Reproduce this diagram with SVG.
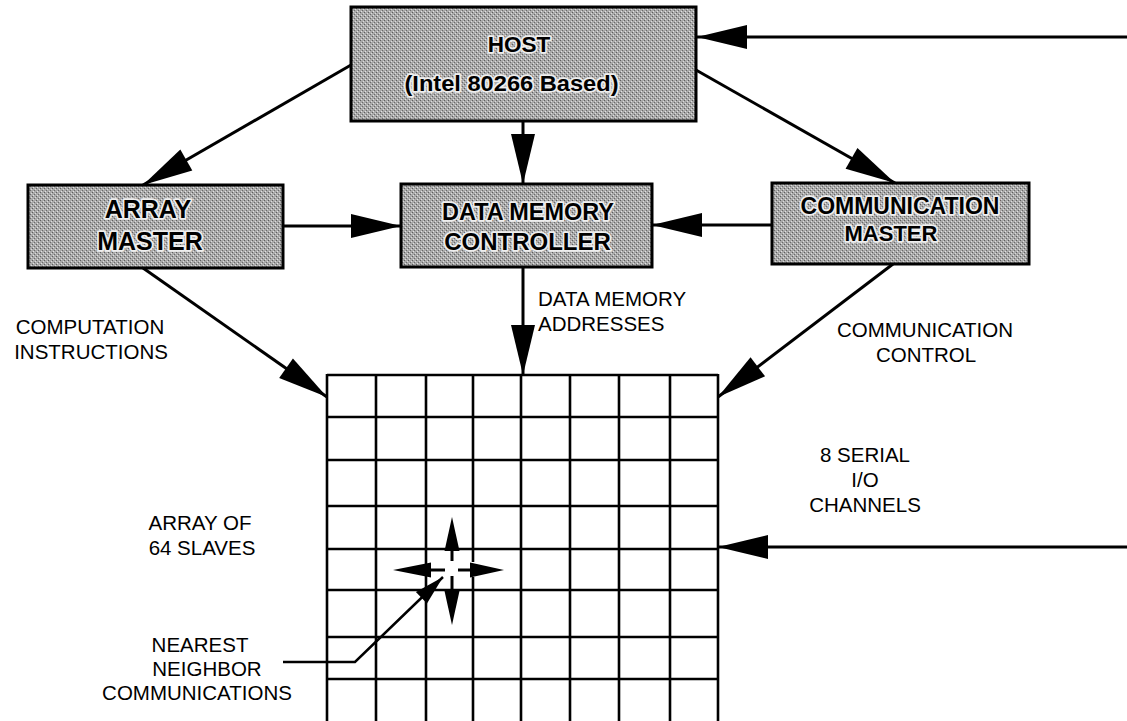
<svg xmlns="http://www.w3.org/2000/svg" width="1127" height="721" viewBox="0 0 1127 721">
<style>
.box{fill:url(#dither);stroke:#000;stroke-width:3}
.bl{font-family:"Liberation Sans",Arial,sans-serif;font-weight:bold;fill:#000;stroke:#eeeeee;stroke-width:3.5;paint-order:stroke;stroke-linejoin:round;text-anchor:middle}
.lb{font-family:"Liberation Sans",Arial,sans-serif;font-size:20.5px;fill:#000;text-anchor:middle}
.ln{stroke:#000;stroke-width:3;fill:none}
.big{marker-end:url(#ah)}
.grid line{stroke:#000;stroke-width:2.6}
.sm{fill:#000}
</style>
<defs>
<pattern id="dither" width="4" height="4" patternUnits="userSpaceOnUse">
<rect width="4" height="4" fill="#a9a9a9"/>
<rect x="0" y="0" width="1" height="1" fill="#5e5e5e"/>
<rect x="2" y="2" width="1" height="1" fill="#6a6a6a"/>
<rect x="1" y="3" width="1" height="1" fill="#e2e2e2"/>
<rect x="3" y="1" width="1" height="1" fill="#dcdcdc"/>
</pattern>
<marker id="ah" markerUnits="userSpaceOnUse" markerWidth="52" markerHeight="26" refX="50" refY="12" orient="auto" overflow="visible">
<path d="M0,0 L50,12 L0,24 Z" fill="#000"/>
</marker>
<marker id="ahs" markerUnits="userSpaceOnUse" markerWidth="32" markerHeight="18" refX="30" refY="8" orient="auto" overflow="visible">
<path d="M0,0 L30,8 L0,16 Z" fill="#000"/>
</marker>
</defs>

<g id="connectors">
<line class="ln big" x1="1127" y1="37" x2="697" y2="37"/>
<line class="ln big" x1="351" y1="65" x2="143" y2="185"/>
<line class="ln big" x1="523" y1="121" x2="523" y2="184"/>
<line class="ln big" x1="696" y1="70" x2="895" y2="183"/>
<line class="ln big" x1="283" y1="226" x2="401" y2="226"/>
<line class="ln big" x1="772" y1="225" x2="652" y2="225"/>
<line class="ln big" x1="143" y1="268" x2="327" y2="397"/>
<line class="ln big" x1="523" y1="266" x2="523" y2="375"/>
<line class="ln big" x1="893" y1="264" x2="718" y2="397"/>
<line class="ln big" x1="1127" y1="547" x2="718" y2="547"/>
</g>

<g id="array-grid" class="grid">
<line x1="327" y1="375" x2="718" y2="375"/>
<line x1="327" y1="417" x2="718" y2="417"/>
<line x1="327" y1="460" x2="718" y2="460"/>
<line x1="327" y1="506" x2="718" y2="506"/>
<line x1="327" y1="549" x2="718" y2="549"/>
<line x1="327" y1="590" x2="718" y2="590"/>
<line x1="327" y1="637" x2="718" y2="637"/>
<line x1="327" y1="679" x2="718" y2="679"/>
<line x1="327" y1="374" x2="327" y2="721"/>
<line x1="376" y1="374" x2="376" y2="721"/>
<line x1="426" y1="374" x2="426" y2="721"/>
<line x1="473" y1="374" x2="473" y2="721"/>
<line x1="521" y1="374" x2="521" y2="721"/>
<line x1="570" y1="374" x2="570" y2="721"/>
<line x1="619" y1="374" x2="619" y2="721"/>
<line x1="670" y1="374" x2="670" y2="721"/>
<line x1="718" y1="374" x2="718" y2="721"/>
</g>

<g id="neighbor-arrows">
<rect x="440" y="552" width="24" height="34" fill="#fff"/>
<rect x="428" y="562" width="48" height="15" fill="#fff"/>
<path class="sm" d="M452,517 L459.5,551 L444.5,551 Z"/>
<path class="sm" d="M452,625 L459.5,591 L444.5,591 Z"/>
<path class="sm" d="M393,570 L431,562.5 L431,577.5 Z"/>
<path class="sm" d="M504,570 L470,562.5 L470,577.5 Z"/>
<line x1="452" y1="550" x2="452" y2="561" stroke="#000" stroke-width="3"/>
<line x1="452" y1="576" x2="452" y2="592" stroke="#000" stroke-width="3"/>
<line x1="430" y1="570" x2="445" y2="570" stroke="#000" stroke-width="3"/>
<line x1="458" y1="570" x2="471" y2="570" stroke="#000" stroke-width="3"/>
<polyline points="283,662 355,662 443,577" stroke="#000" stroke-width="2.5" fill="none" style="marker-end:url(#ahs)"/>
</g>

<g id="host">
<rect class="box" x="351" y="7" width="345" height="114"/>
<text class="bl" x="519" y="52" font-size="22.5">HOST</text>
<text class="bl" x="511.5" y="91" font-size="22.5" textLength="214" lengthAdjust="spacingAndGlyphs">(Intel 80266 Based)</text>
</g>

<g id="array-master">
<rect class="box" x="28" y="185" width="255" height="83"/>
<text class="bl" x="148" y="218" font-size="25">ARRAY</text>
<text class="bl" x="150" y="250" font-size="25">MASTER</text>
</g>

<g id="data-memory-controller">
<rect class="box" x="401" y="184" width="251" height="83"/>
<text class="bl" x="528" y="220" font-size="24" textLength="172" lengthAdjust="spacingAndGlyphs">DATA MEMORY</text>
<text class="bl" x="527.5" y="250" font-size="24">CONTROLLER</text>
</g>

<g id="communication-master">
<rect class="box" x="772" y="183" width="257" height="81"/>
<text class="bl" x="900" y="214" font-size="23">COMMUNICATION</text>
<text class="bl" x="891" y="241" font-size="22">MASTER</text>
</g>

<g id="labels">
<text class="lb" x="90" y="334">COMPUTATION</text>
<text class="lb" x="91" y="359">INSTRUCTIONS</text>
<text class="lb" x="538" y="306" style="text-anchor:start">DATA MEMORY</text>
<text class="lb" x="538" y="331" style="text-anchor:start">ADDRESSES</text>
<text class="lb" x="925" y="337">COMMUNICATION</text>
<text class="lb" x="926" y="362">CONTROL</text>
<text class="lb" x="865" y="462">8 SERIAL</text>
<text class="lb" x="865" y="487">I/O</text>
<text class="lb" x="865" y="512">CHANNELS</text>
<text class="lb" x="200" y="530">ARRAY OF</text>
<text class="lb" x="202" y="555">64 SLAVES</text>
<text class="lb" x="200" y="652">NEAREST</text>
<text class="lb" x="207" y="676">NEIGHBOR</text>
<text class="lb" x="197" y="700">COMMUNICATIONS</text>
</g>
</svg>
